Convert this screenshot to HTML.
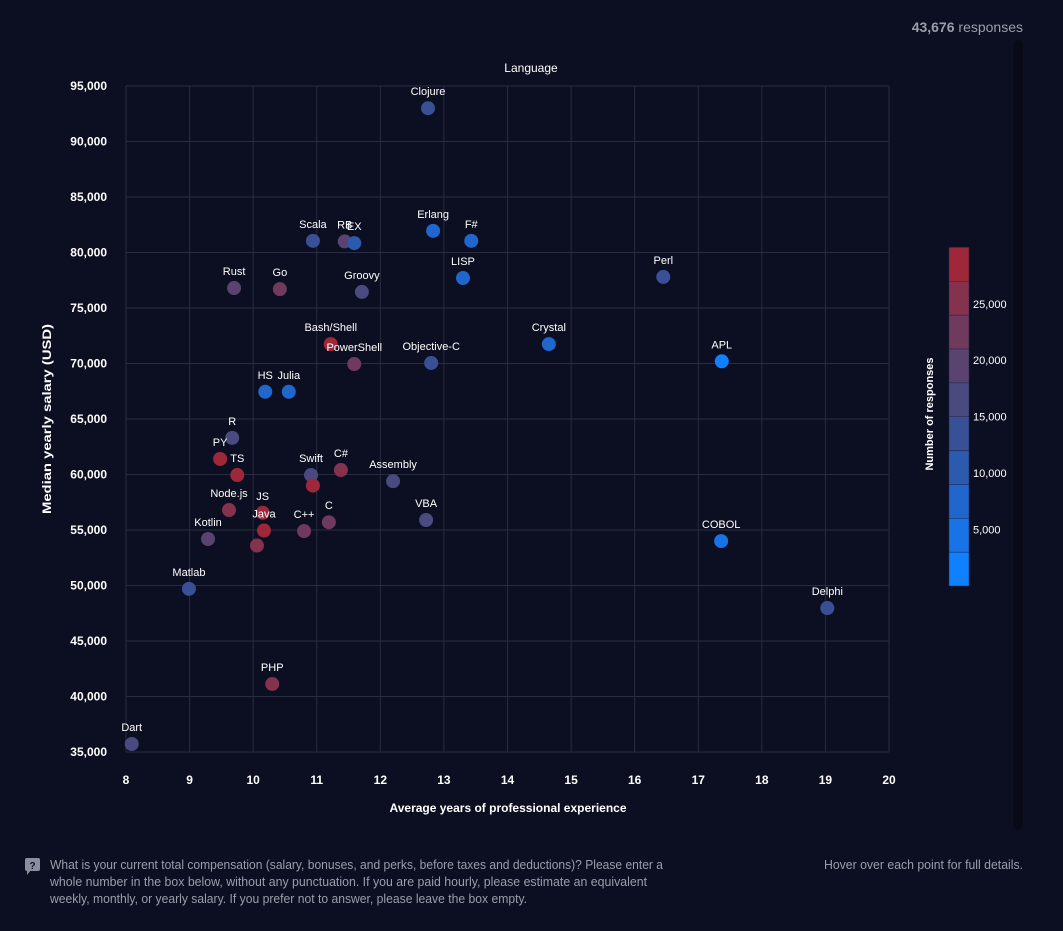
<!DOCTYPE html>
<html><head><meta charset="utf-8"><style>
html,body{margin:0;padding:0;background:#0c0f21;}
svg{display:block;font-family:"Liberation Sans",sans-serif;}
</style></head><body>
<svg id="chart" width="1063" height="931" viewBox="0 0 1063 931" xmlns="http://www.w3.org/2000/svg">
<rect x="0" y="0" width="1063" height="931" fill="#0c0f21"/>
<rect x="1013" y="40" width="10" height="790" rx="5" fill="#080a17"/>
<text x="1023" y="32" text-anchor="end" font-size="14" fill="#9a9eab"><tspan font-weight="bold">43,676</tspan> responses</text>
<text x="531" y="72" text-anchor="middle" font-size="12" fill="#fff">Language</text>
<g id="grid"></g>
<g id="points"></g>
<g id="legend"></g>
<text x="508" y="812" text-anchor="middle" font-size="12" font-weight="bold" fill="#fff">Average years of professional experience</text>
<text transform="translate(51,419) rotate(-90)" text-anchor="middle" font-size="12" font-weight="bold" fill="#fff" textLength="190" lengthAdjust="spacingAndGlyphs">Median yearly salary (USD)</text>
<g><rect x="25" y="858" width="15" height="13" rx="2" fill="#8a8e9c"/><path d="M27 870 L27 875 L31 870 Z" fill="#8a8e9c"/><text x="32.5" y="869" text-anchor="middle" font-size="10" font-weight="bold" fill="#0c0f21">?</text></g>
<g font-size="13" fill="#9a9eab">
<text x="50" y="869" textLength="613" lengthAdjust="spacingAndGlyphs">What is your current total compensation (salary, bonuses, and perks, before taxes and deductions)? Please enter a</text>
<text x="50" y="886" textLength="597" lengthAdjust="spacingAndGlyphs">whole number in the box below, without any punctuation. If you are paid hourly, please estimate an equivalent</text>
<text x="50" y="903" textLength="477" lengthAdjust="spacingAndGlyphs">weekly, monthly, or yearly salary. If you prefer not to answer, please leave the box empty.</text>
</g>
<text x="1023" y="869" text-anchor="end" font-size="13" fill="#9a9eab" textLength="199" lengthAdjust="spacingAndGlyphs">Hover over each point for full details.</text>
</svg>
<script>
const names=["Clojure","Scala","RB","EX","Erlang","F#","LISP","Perl","Rust","Go","Groovy","Bash/Shell","PowerShell","Objective-C","Crystal","APL","HS","Julia","R","PY","TS","Swift","","C#","Assembly","Node.js","JS","Java","","C++","C","VBA","Kotlin","Matlab","COBOL","Delphi","PHP","Dart"];
const years=[12.75,10.94,11.44,11.59,12.83,13.43,13.30,16.45,9.70,10.42,11.71,11.22,11.59,12.80,14.65,17.37,10.19,10.56,9.67,9.48,9.75,10.91,10.94,11.38,12.20,9.62,10.15,10.17,10.06,10.80,11.19,12.72,9.29,8.99,17.36,19.03,10.30,8.09];
const salary=[93000,81050,81000,80850,81950,81050,77700,77800,76800,76700,76450,71750,69950,70050,71750,70200,67450,67450,63300,61400,59950,59950,59000,60400,59400,56800,56550,54950,53600,54900,55700,55900,54190,49700,54000,47970,41130,35720];
const counts=[13000,13500,20000,11500,8000,8500,8000,14000,18500,21500,15000,27500,22000,13000,7000,2000,8000,7000,15000,28000,27000,16000,29000,25000,15000,26000,29500,29500,26500,22500,22500,15500,19500,14500,5000,12000,24500,16000];
const xTicks=[8,9,10,11,12,13,14,15,16,17,18,19,20];
const yTicks=[35000,40000,45000,50000,55000,60000,65000,70000,75000,80000,85000,90000,95000];
const legendTicks=[5000,10000,15000,20000,25000];
const binColors=["#0f80ff","#1873e6","#2166cc","#2b5aae","#3a5096","#4b4a80","#5b4370","#6f3a5e","#85324e","#9e2839"];
const NS="http://www.w3.org/2000/svg";
const X=v=>126+(v-8)*(763/12);
const Y=v=>752-(v-35000)*(666/60000);
const binW=3000;
const C=c=>binColors[Math.max(0,Math.min(9,Math.floor(c/binW)))];
function mk(t,a,p){const e=document.createElementNS(NS,t);for(const k in a)e.setAttribute(k,a[k]);p.appendChild(e);return e;}
const grid=document.getElementById('grid');
xTicks.forEach(t=>{
 const l=mk('line',{x1:X(t),x2:X(t),y1:86,y2:752,stroke:'#282c3e','stroke-width':1},grid);
 
 
 const s=mk('text',{x:X(t),y:784,'text-anchor':'middle','font-size':12,'font-weight':'bold',fill:'#fff'},grid);
 s.textContent=t;
 
 
});
yTicks.forEach(t=>{
 const l=mk('line',{x1:126,x2:889,y1:Y(t),y2:Y(t),stroke:'#282c3e','stroke-width':1},grid);
 
 
 const s=mk('text',{x:107,y:Y(t)+4,'text-anchor':'end','font-size':12,'font-weight':'bold',fill:'#fff'},grid);
 s.textContent=t.toLocaleString('en-US');
 
 
});
const pts=document.getElementById('points');
names.forEach((n,i)=>{
 const c=mk('circle',{cx:X(years[i]),cy:Y(salary[i]),r:7,fill:C(counts[i])},pts);
 
 
});
names.forEach((n,i)=>{
 if(!n)return;
 const s=mk('text',{x:X(years[i]),y:Y(salary[i])-13,'text-anchor':'middle','font-size':11,fill:'#fff'},pts);
 s.textContent=n;
 
 
});
const lg=document.getElementById('legend');
const LY=v=>586-v*(333/29500);
binColors.forEach((col,i)=>{
 const r=mk('rect',{x:949,y:LY((i+1)*binW),width:20,height:LY(i*binW)-LY((i+1)*binW),fill:col,stroke:'#1c2850','stroke-width':0.5},lg);
 
 
});
legendTicks.forEach(t=>{
 const s=mk('text',{x:973,y:LY(t)+4,'font-size':11,fill:'#fff'},lg);
 s.textContent=t.toLocaleString('en-US');
 
 
});
const lt=mk('text',{transform:'translate(933,414) rotate(-90)','text-anchor':'middle','font-size':11,'font-weight':'bold',fill:'#fff'},lg);
lt.textContent='Number of responses';


</script>
</body></html>
